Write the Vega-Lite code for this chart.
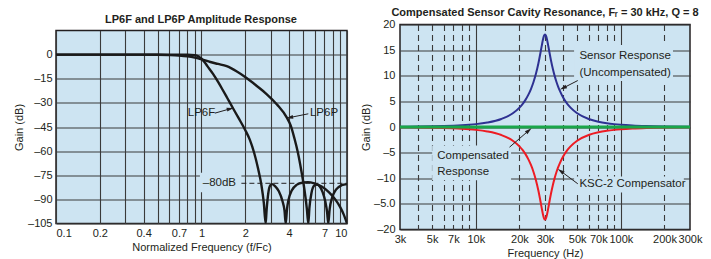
{
  "$schema": "https://vega.github.io/schema/vega-lite/v6.json",
  "background": "white",
  "padding": {"left": 12, "top": 5.5, "right": 0, "bottom": 0},
  "spacing": 10,
  "config": {
    "font": "Liberation Sans",
    "view": {"fill": "#cde4f2", "stroke": "#231f20", "strokeWidth": 1.5},
    "axis": {"domain": false, "ticks": false, "labelFontSize": 11, "titleFontSize": 11, "titleFontWeight": "normal", "labelColor": "#231f20", "titleColor": "#231f20", "gridColor": "#3a3a3a", "gridWidth": 1.1, "gridOpacity": 1, "labelOverlap": false, "tickCount": 100},
    "title": {"fontSize": 11, "fontWeight": "bold", "color": "#231f20", "anchor": "middle", "frame": "group"},
    "text": {"font": "Liberation Sans", "fontSize": 11, "color": "#231f20"}
  },
  "datasets": {
    "lp": [
      {"f": 0.1, "g": 0, "s": "LP6F"}, {"f": 0.3, "g": 0, "s": "LP6F"}, {"f": 0.6, "g": 0, "s": "LP6F"}, {"f": 0.8, "g": -0.05, "s": "LP6F"}, {"f": 0.9, "g": -0.4, "s": "LP6F"}, {"f": 0.95, "g": -1.0, "s": "LP6F"}, {"f": 1.0, "g": -2.5, "s": "LP6F"}, {"f": 1.05, "g": -4.8, "s": "LP6F"}, {"f": 1.1, "g": -7.3, "s": "LP6F"}, {"f": 1.2, "g": -12, "s": "LP6F"}, {"f": 1.3, "g": -17, "s": "LP6F"}, {"f": 1.4, "g": -22, "s": "LP6F"}, {"f": 1.5, "g": -26.8, "s": "LP6F"}, {"f": 1.65, "g": -33.5, "s": "LP6F"}, {"f": 1.8, "g": -39.5, "s": "LP6F"}, {"f": 2.0, "g": -47, "s": "LP6F"}, {"f": 2.15, "g": -53, "s": "LP6F"}, {"f": 2.3, "g": -61, "s": "LP6F"}, {"f": 2.45, "g": -71, "s": "LP6F"}, {"f": 2.58, "g": -81, "s": "LP6F"}, {"f": 2.68, "g": -92, "s": "LP6F"}, {"f": 2.76, "g": -105, "s": "LP6F"}, {"f": 2.8, "g": -97, "s": "LP6F"}, {"f": 2.88, "g": -86, "s": "LP6F"}, {"f": 2.96, "g": -81.5, "s": "LP6F"}, {"f": 3.05, "g": -80.5, "s": "LP6F"}, {"f": 3.2, "g": -81.8, "s": "LP6F"}, {"f": 3.4, "g": -85, "s": "LP6F"}, {"f": 3.6, "g": -91, "s": "LP6F"}, {"f": 3.72, "g": -97, "s": "LP6F"}, {"f": 3.79, "g": -105, "s": "LP6F"}, {"f": 3.87, "g": -96, "s": "LP6F"}, {"f": 3.97, "g": -90, "s": "LP6F"}, {"f": 4.17, "g": -84.5, "s": "LP6F"}, {"f": 4.5, "g": -81, "s": "LP6F"}, {"f": 5.0, "g": -79.5, "s": "LP6F"}, {"f": 5.4, "g": -79.3, "s": "LP6F"}, {"f": 6.0, "g": -80.2, "s": "LP6F"}, {"f": 6.7, "g": -82, "s": "LP6F"}, {"f": 7.5, "g": -85.5, "s": "LP6F"}, {"f": 8.3, "g": -90, "s": "LP6F"}, {"f": 9.0, "g": -95, "s": "LP6F"}, {"f": 9.5, "g": -99.5, "s": "LP6F"}, {"f": 10, "g": -105, "s": "LP6F"},
      {"f": 0.1, "g": 0, "s": "LP6P"}, {"f": 0.3, "g": 0, "s": "LP6P"}, {"f": 0.5, "g": -0.1, "s": "LP6P"}, {"f": 0.6, "g": -0.3, "s": "LP6P"}, {"f": 0.7, "g": -0.6, "s": "LP6P"}, {"f": 0.8, "g": -1.1, "s": "LP6P"}, {"f": 0.9, "g": -1.9, "s": "LP6P"}, {"f": 1.0, "g": -2.9, "s": "LP6P"}, {"f": 1.15, "g": -4.6, "s": "LP6P"}, {"f": 1.3, "g": -5.8, "s": "LP6P"}, {"f": 1.49, "g": -7.2, "s": "LP6P"}, {"f": 1.75, "g": -10.5, "s": "LP6P"}, {"f": 2.04, "g": -14.5, "s": "LP6P"}, {"f": 2.4, "g": -19.5, "s": "LP6P"}, {"f": 2.8, "g": -24.5, "s": "LP6P"}, {"f": 3.3, "g": -31, "s": "LP6P"}, {"f": 3.85, "g": -39, "s": "LP6P"}, {"f": 4.1, "g": -44, "s": "LP6P"}, {"f": 4.35, "g": -52, "s": "LP6P"}, {"f": 4.6, "g": -61, "s": "LP6P"}, {"f": 4.85, "g": -72, "s": "LP6P"}, {"f": 5.1, "g": -84, "s": "LP6P"}, {"f": 5.3, "g": -96, "s": "LP6P"}, {"f": 5.42, "g": -105, "s": "LP6P"}, {"f": 5.52, "g": -95, "s": "LP6P"}, {"f": 5.7, "g": -86, "s": "LP6P"}, {"f": 5.95, "g": -81.5, "s": "LP6P"}, {"f": 6.2, "g": -80.8, "s": "LP6P"}, {"f": 6.5, "g": -82, "s": "LP6P"}, {"f": 6.8, "g": -85.5, "s": "LP6P"}, {"f": 7.1, "g": -91.5, "s": "LP6P"}, {"f": 7.3, "g": -98, "s": "LP6P"}, {"f": 7.43, "g": -105, "s": "LP6P"}, {"f": 7.6, "g": -96, "s": "LP6P"}, {"f": 7.9, "g": -89, "s": "LP6P"}, {"f": 8.4, "g": -84, "s": "LP6P"}, {"f": 9.2, "g": -81.2, "s": "LP6P"}, {"f": 10, "g": -80.5, "s": "LP6P"}
    ],
    "lbox": [{"x1": 0.975, "x2": 1.88, "y1": -73.5, "y2": -85.5}],
    "lref": [{"x1": 1.88, "x2": 10, "y": -80}],
    "ltext": [{"x": 0.805, "y": -36.4, "t": "LP6F"}, {"x": 5.565, "y": -36.4, "t": "LP6P"}, {"x": 1.02, "y": -80, "t": "–80dB"}],
    "larrow": [{"id": "F", "x1": 1.235, "y1": -36.4, "x2": 1.6, "y2": -33.5, "hx": 1.577, "hy": -33.7}, {"id": "P", "x1": 5.42, "y1": -36.8, "x2": 4.0, "y2": -39.2, "hx": 4.03, "hy": -39.1}],
    "rs": [
      {"f": 3000, "g": 0.043, "s": "sensor"}, {"f": 4000, "g": 0.078, "s": "sensor"}, {"f": 5000, "g": 0.124, "s": "sensor"}, {"f": 6000, "g": 0.182, "s": "sensor"}, {"f": 7000, "g": 0.253, "s": "sensor"}, {"f": 8000, "g": 0.338, "s": "sensor"}, {"f": 9000, "g": 0.441, "s": "sensor"}, {"f": 10000, "g": 0.562, "s": "sensor"}, {"f": 12000, "g": 0.872, "s": "sensor"}, {"f": 15000, "g": 1.567, "s": "sensor"}, {"f": 18000, "g": 2.68, "s": "sensor"}, {"f": 20000, "g": 3.777, "s": "sensor"}, {"f": 21000, "g": 4.474, "s": "sensor"}, {"f": 22000, "g": 5.294, "s": "sensor"}, {"f": 23000, "g": 6.264, "s": "sensor"}, {"f": 24000, "g": 7.414, "s": "sensor"}, {"f": 25000, "g": 8.78, "s": "sensor"}, {"f": 26000, "g": 10.428, "s": "sensor"}, {"f": 27000, "g": 12.394, "s": "sensor"}, {"f": 28000, "g": 14.679, "s": "sensor"}, {"f": 28500, "g": 15.869, "s": "sensor"}, {"f": 29000, "g": 16.961, "s": "sensor"}, {"f": 29500, "g": 17.76, "s": "sensor"}, {"f": 30000, "g": 18.062, "s": "sensor"}, {"f": 30500, "g": 17.76, "s": "sensor"}, {"f": 31000, "g": 17.024, "s": "sensor"}, {"f": 31500, "g": 16.035, "s": "sensor"}, {"f": 32000, "g": 14.979, "s": "sensor"}, {"f": 33000, "g": 12.989, "s": "sensor"}, {"f": 34000, "g": 11.31, "s": "sensor"}, {"f": 35000, "g": 9.927, "s": "sensor"}, {"f": 36000, "g": 8.785, "s": "sensor"}, {"f": 37000, "g": 7.832, "s": "sensor"}, {"f": 38000, "g": 7.029, "s": "sensor"}, {"f": 40000, "g": 5.759, "s": "sensor"}, {"f": 43000, "g": 4.422, "s": "sensor"}, {"f": 45000, "g": 3.777, "s": "sensor"}, {"f": 50000, "g": 2.68, "s": "sensor"}, {"f": 60000, "g": 1.567, "s": "sensor"}, {"f": 70000, "g": 1.039, "s": "sensor"}, {"f": 80000, "g": 0.744, "s": "sensor"}, {"f": 90000, "g": 0.562, "s": "sensor"}, {"f": 100000, "g": 0.441, "s": "sensor"}, {"f": 120000, "g": 0.294, "s": "sensor"}, {"f": 150000, "g": 0.182, "s": "sensor"}, {"f": 200000, "g": 0.1, "s": "sensor"}, {"f": 300000, "g": 0.043, "s": "sensor"},
      {"f": 3000, "g": -0.043, "s": "comp"}, {"f": 4000, "g": -0.078, "s": "comp"}, {"f": 5000, "g": -0.124, "s": "comp"}, {"f": 6000, "g": -0.182, "s": "comp"}, {"f": 7000, "g": -0.253, "s": "comp"}, {"f": 8000, "g": -0.338, "s": "comp"}, {"f": 9000, "g": -0.441, "s": "comp"}, {"f": 10000, "g": -0.562, "s": "comp"}, {"f": 12000, "g": -0.872, "s": "comp"}, {"f": 15000, "g": -1.567, "s": "comp"}, {"f": 18000, "g": -2.68, "s": "comp"}, {"f": 20000, "g": -3.777, "s": "comp"}, {"f": 21000, "g": -4.474, "s": "comp"}, {"f": 22000, "g": -5.294, "s": "comp"}, {"f": 23000, "g": -6.264, "s": "comp"}, {"f": 24000, "g": -7.414, "s": "comp"}, {"f": 25000, "g": -8.78, "s": "comp"}, {"f": 26000, "g": -10.428, "s": "comp"}, {"f": 27000, "g": -12.394, "s": "comp"}, {"f": 28000, "g": -14.679, "s": "comp"}, {"f": 28500, "g": -15.869, "s": "comp"}, {"f": 29000, "g": -16.961, "s": "comp"}, {"f": 29500, "g": -17.76, "s": "comp"}, {"f": 30000, "g": -18.062, "s": "comp"}, {"f": 30500, "g": -17.76, "s": "comp"}, {"f": 31000, "g": -17.024, "s": "comp"}, {"f": 31500, "g": -16.035, "s": "comp"}, {"f": 32000, "g": -14.979, "s": "comp"}, {"f": 33000, "g": -12.989, "s": "comp"}, {"f": 34000, "g": -11.31, "s": "comp"}, {"f": 35000, "g": -9.927, "s": "comp"}, {"f": 36000, "g": -8.785, "s": "comp"}, {"f": 37000, "g": -7.832, "s": "comp"}, {"f": 38000, "g": -7.029, "s": "comp"}, {"f": 40000, "g": -5.759, "s": "comp"}, {"f": 43000, "g": -4.422, "s": "comp"}, {"f": 45000, "g": -3.777, "s": "comp"}, {"f": 50000, "g": -2.68, "s": "comp"}, {"f": 60000, "g": -1.567, "s": "comp"}, {"f": 70000, "g": -1.039, "s": "comp"}, {"f": 80000, "g": -0.744, "s": "comp"}, {"f": 90000, "g": -0.562, "s": "comp"}, {"f": 100000, "g": -0.441, "s": "comp"}, {"f": 120000, "g": -0.294, "s": "comp"}, {"f": 150000, "g": -0.182, "s": "comp"}, {"f": 200000, "g": -0.1, "s": "comp"}, {"f": 300000, "g": -0.043, "s": "comp"}
    ],
    "rflat": [{"f": 3000, "g": 0}, {"f": 300000, "g": 0}],
    "rbox": [{"x1": 47600, "x2": 229000, "y1": 16, "y2": 9}, {"x1": 5000, "x2": 17500, "y1": -3.6, "y2": -10.4}, {"x1": 47600, "x2": 272000, "y1": -9.66, "y2": -12.8}],
    "rtext": [{"x": 51800, "y": 13.76, "t": "Sensor Response"}, {"x": 51800, "y": 10.5, "t": "(Uncompensated)"}, {"x": 5420, "y": -5.72, "t": "Compensated"}, {"x": 5420, "y": -8.82, "t": "Response"}, {"x": 51800, "y": -11.2, "t": "KSC-2 Compensator"}],
    "rarrow": [{"id": "S", "x1": 50500, "y1": 9.07, "x2": 40000, "y2": 7.6, "hx": 40000, "hy": 7.6}, {"id": "C", "x1": 17070, "y1": -3.94, "x2": 23200, "y2": -0.68, "hx": 23200, "hy": -0.68}, {"id": "K", "x1": 50500, "y1": -11.08, "x2": 38500, "y2": -8.6, "hx": 38500, "hy": -8.6}]
  },
  "hconcat": [
    {
      "title": {"text": "LP6F and LP6P Amplitude Response", "offset": 0, "anchor": "start", "frame": "group", "dx": 49},
      "spacing": 0,
      "vconcat": [
        {"width": 291, "height": 4.3, "data": {"values": []}, "mark": "point", "view": {"stroke": null, "fill": null}},
        {
          "width": 291, "height": 193,
          "layer": [
            {
              "data": {"name": "lbox"},
              "mark": {"type": "rect", "fill": "#cde4f2"},
              "encoding": {
                "x": {"field": "x1", "type": "quantitative", "scale": {"type": "log", "domain": [0.1, 10], "nice": false},
                  "axis": {"title": "Normalized Frequency (f/Fc)", "values": [0.1, 0.2, 0.3, 0.4, 0.5, 0.6, 0.7, 0.8, 0.9, 1, 2, 3, 4, 5, 6, 7, 8, 9, 10], "labelExpr": "indexof([0.1, 0.2, 0.4, 0.7, 1, 2, 4, 7, 10], datum.value) >= 0 ? '' + datum.value : ''", "labelFlush": true, "labelOverlap": false, "tickCount": 100, "labelPadding": 4, "titlePadding": 3, "grid": true}},
                "x2": {"field": "x2"},
                "y": {"field": "y1", "type": "quantitative", "scale": {"domain": [-105, 15], "nice": false, "zero": false},
                  "axis": {"title": "Gain (dB)", "values": [-105, -90, -75, -60, -45, -30, -15, 0], "labelExpr": "datum.value < 0 ? '–' + abs(datum.value) : '' + datum.value", "labelFlush": false, "labelOverlap": false, "tickCount": 100, "labelPadding": 4, "titlePadding": 3, "grid": true}},
                "y2": {"field": "y2"}
              }
            },
            {
              "data": {"name": "lref"},
              "mark": {"type": "rule", "color": "#231f20", "strokeWidth": 1, "strokeDash": [5, 3]},
              "encoding": {
                "x": {"field": "x1", "type": "quantitative", "scale": {"type": "log", "domain": [0.1, 10], "nice": false}},
                "x2": {"field": "x2"},
                "y": {"field": "y", "type": "quantitative", "scale": {"domain": [-105, 15], "nice": false, "zero": false}}
              }
            },
            {
              "data": {"name": "lp"},
              "mark": {"type": "line", "color": "#1a1a1a", "strokeWidth": 2.4, "interpolate": "monotone", "clip": true},
              "encoding": {
                "x": {"field": "f", "type": "quantitative", "scale": {"type": "log", "domain": [0.1, 10], "nice": false}},
                "y": {"field": "g", "type": "quantitative", "scale": {"domain": [-105, 15], "nice": false, "zero": false}},
                "detail": {"field": "s"}
              }
            },
            {
              "data": {"name": "ltext"},
              "mark": {"type": "text", "align": "left", "baseline": "middle", "fontSize": 11.5},
              "encoding": {
                "x": {"field": "x", "type": "quantitative", "scale": {"type": "log", "domain": [0.1, 10], "nice": false}},
                "y": {"field": "y", "type": "quantitative", "scale": {"domain": [-105, 15], "nice": false, "zero": false}},
                "text": {"field": "t"}
              }
            },
            {
              "data": {"name": "larrow"},
              "mark": {"type": "rule", "color": "#231f20", "strokeWidth": 1},
              "encoding": {
                "x": {"field": "x1", "type": "quantitative", "scale": {"type": "log", "domain": [0.1, 10], "nice": false}},
                "x2": {"field": "x2"},
                "y": {"field": "y1", "type": "quantitative", "scale": {"domain": [-105, 15], "nice": false, "zero": false}},
                "y2": {"field": "y2"}
              }
            },
            {
              "data": {"name": "larrow"},
              "transform": [{"filter": "datum.id == 'F'"}],
              "mark": {"type": "point", "shape": "M0,-1L0.55,1L-0.55,1Z", "filled": true, "color": "#231f20", "size": 50, "angle": 75, "opacity": 1},
              "encoding": {
                "x": {"field": "hx", "type": "quantitative", "scale": {"type": "log", "domain": [0.1, 10], "nice": false}},
                "y": {"field": "hy", "type": "quantitative", "scale": {"domain": [-105, 15], "nice": false, "zero": false}}
              }
            },
            {
              "data": {"name": "larrow"},
              "transform": [{"filter": "datum.id == 'P'"}],
              "mark": {"type": "point", "shape": "M0,-1L0.55,1L-0.55,1Z", "filled": true, "color": "#231f20", "size": 50, "angle": 259, "opacity": 1},
              "encoding": {
                "x": {"field": "hx", "type": "quantitative", "scale": {"type": "log", "domain": [0.1, 10], "nice": false}},
                "y": {"field": "hy", "type": "quantitative", "scale": {"domain": [-105, 15], "nice": false, "zero": false}}
              }
            }
          ]
        }
      ]
    },
    {
      "width": 290, "height": 205,
      "title": {"text": "Compensated Sensor Cavity Resonance, Fᵣ = 30 kHz, Q = 8", "offset": 1},
      "layer": [
        {
          "data": {"name": "rbox"},
          "mark": {"type": "rect", "fill": "#cde4f2"},
          "encoding": {
            "x": {"field": "x1", "type": "quantitative", "scale": {"type": "log", "domain": [3000, 300000], "nice": false},
              "axis": {"title": "Frequency (Hz)", "values": [3000, 4000, 5000, 6000, 7000, 8000, 9000, 10000, 20000, 30000, 40000, 50000, 60000, 70000, 80000, 90000, 100000, 200000, 300000], "labelExpr": "indexof([3000, 5000, 7000, 10000, 20000, 30000, 50000, 70000, 100000, 200000, 300000], datum.value) >= 0 ? (datum.value / 1000) + 'k' : ''", "labelFlush": false, "labelOverlap": false, "tickCount": 100, "labelPadding": 4, "titlePadding": 3, "grid": true,
                "gridDash": {"condition": {"test": "datum.value == 10000 || datum.value == 100000", "value": []}, "value": [6, 4]},
                "gridOpacity": {"condition": {"test": "datum.value == 3000 || datum.value == 300000", "value": 0}, "value": 1}}},
            "x2": {"field": "x2"},
            "y": {"field": "y1", "type": "quantitative", "scale": {"domain": [-20, 20], "nice": false, "zero": false},
              "axis": {"title": "Gain (dB)", "values": [-20, -15, -10, -5, 0, 5, 10, 15, 20], "labelExpr": "datum.value == -15 ? '–5.0' : (datum.value < 0 ? '–' + abs(datum.value) : '' + datum.value)", "labelFlush": false, "labelOverlap": false, "tickCount": 100, "labelPadding": 5, "titlePadding": 2, "grid": true}},
            "y2": {"field": "y2"}
          }
        },
        {
          "data": {"name": "rs"},
          "mark": {"type": "line", "strokeWidth": 2, "interpolate": "monotone"},
          "encoding": {
            "x": {"field": "f", "type": "quantitative", "scale": {"type": "log", "domain": [3000, 300000], "nice": false}},
            "y": {"field": "g", "type": "quantitative", "scale": {"domain": [-20, 20], "nice": false, "zero": false}},
            "color": {"field": "s", "type": "nominal", "scale": {"domain": ["sensor", "comp"], "range": ["#2e3192", "#ed1c24"]}, "legend": null}
          }
        },
        {
          "data": {"name": "rflat"},
          "mark": {"type": "line", "strokeWidth": 3, "color": "#1aa64a"},
          "encoding": {
            "x": {"field": "f", "type": "quantitative", "scale": {"type": "log", "domain": [3000, 300000], "nice": false}},
            "y": {"field": "g", "type": "quantitative", "scale": {"domain": [-20, 20], "nice": false, "zero": false}}
          }
        },
        {
          "data": {"name": "rtext"},
          "mark": {"type": "text", "align": "left", "baseline": "middle", "fontSize": 11.5},
          "encoding": {
            "x": {"field": "x", "type": "quantitative", "scale": {"type": "log", "domain": [3000, 300000], "nice": false}},
            "y": {"field": "y", "type": "quantitative", "scale": {"domain": [-20, 20], "nice": false, "zero": false}},
            "text": {"field": "t"}
          }
        },
        {
          "data": {"name": "rarrow"},
          "mark": {"type": "rule", "color": "#231f20", "strokeWidth": 1},
          "encoding": {
            "x": {"field": "x1", "type": "quantitative", "scale": {"type": "log", "domain": [3000, 300000], "nice": false}},
            "x2": {"field": "x2"},
            "y": {"field": "y1", "type": "quantitative", "scale": {"domain": [-20, 20], "nice": false, "zero": false}},
            "y2": {"field": "y2"}
          }
        },
        {
          "data": {"name": "rarrow"},
          "transform": [{"filter": "datum.id == 'S'"}],
          "mark": {"type": "point", "shape": "M0,-1L0.55,1L-0.55,1Z", "filled": true, "color": "#231f20", "size": 50, "angle": 244, "opacity": 1},
          "encoding": {
            "x": {"field": "hx", "type": "quantitative", "scale": {"type": "log", "domain": [3000, 300000], "nice": false}},
            "y": {"field": "hy", "type": "quantitative", "scale": {"domain": [-20, 20], "nice": false, "zero": false}}
          }
        },
        {
          "data": {"name": "rarrow"},
          "transform": [{"filter": "datum.id == 'C'"}],
          "mark": {"type": "point", "shape": "M0,-1L0.55,1L-0.55,1Z", "filled": true, "color": "#231f20", "size": 50, "angle": 49, "opacity": 1},
          "encoding": {
            "x": {"field": "hx", "type": "quantitative", "scale": {"type": "log", "domain": [3000, 300000], "nice": false}},
            "y": {"field": "hy", "type": "quantitative", "scale": {"domain": [-20, 20], "nice": false, "zero": false}}
          }
        },
        {
          "data": {"name": "rarrow"},
          "transform": [{"filter": "datum.id == 'K'"}],
          "mark": {"type": "point", "shape": "M0,-1L0.55,1L-0.55,1Z", "filled": true, "color": "#231f20", "size": 50, "angle": 306, "opacity": 1},
          "encoding": {
            "x": {"field": "hx", "type": "quantitative", "scale": {"type": "log", "domain": [3000, 300000], "nice": false}},
            "y": {"field": "hy", "type": "quantitative", "scale": {"domain": [-20, 20], "nice": false, "zero": false}}
          }
        }
      ]
    }
  ]
}
